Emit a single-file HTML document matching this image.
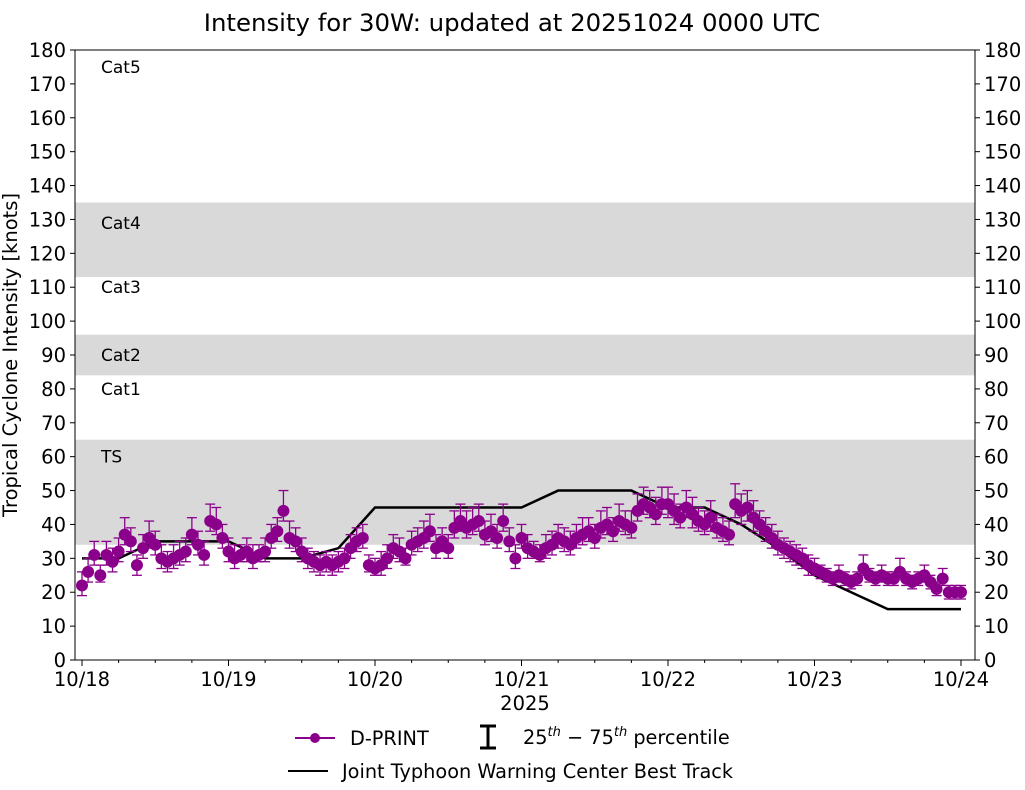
<!DOCTYPE html>
<html><head><meta charset="utf-8"><style>
body{margin:0;background:#fff;font-family:"Liberation Sans","DejaVu Sans",sans-serif}
svg text{font-family:"DejaVu Sans","Liberation Sans",sans-serif}
</style></head><body>
<svg id="c" width="1025" height="785" xmlns="http://www.w3.org/2000/svg" style="position:absolute;left:0;top:0"></svg>
<script>
// Data
const bandLo=[34,84,113];
const bandHi=[65,96,135];
const catLabels=["Cat5","Cat4","Cat3","Cat2","Cat1","TS"];
const catLabelVals=[175,129,110,90,80,60];
const yTicks=[0,10,20,30,40,50,60,70,80,90,100,110,120,130,140,150,160,170,180];
const xTickLabels=["10/18","10/19","10/20","10/21","10/22","10/23","10/24"];
const btHours=[0,6,12,18,24,30,36,42,48,54,60,66,72,78,84,90,96,102,108,114,120,126,132,138,144];
const btVals=[30,30,35,35,35,30,30,33,45,45,45,45,45,50,50,50,45,45,40,33,25,20,15,15,15];
const dpVals=[
22,26,31,25,31,29,32,37,35,28,33,36,34,30,29,30,31,32,37,34,31,41,40,36,
32,30,31,32,30,31,32,36,38,44,36,35,32,30,29,28,29,28,29,30,33,35,36,28,
27,28,30,33,32,30,34,35,36,38,33,35,33,39,41,39,40,41,37,38,36,41,35,30,
36,33,32,31,33,34,36,35,34,36,37,38,36,39,40,38,41,40,39,44,46,45,43,46,
46,44,42,45,43,41,40,42,39,38,37,46,44,45,42,40,38,36,34,33,32,31,30,28,
27,26,25,24,25,24,23,24,27,25,24,25,24,24,26,24,23,24,25,23,21,24,20,20,
20];
const dpErrHi=[
4,4,4,3,4,4,4,5,4,3,4,5,4,4,3,4,4,4,5,4,4,5,5,4,
4,4,3,4,4,3,4,4,4,6,5,4,4,3,3,3,3,3,3,3,4,4,4,3,
3,4,4,4,4,3,4,4,5,5,4,4,4,5,5,5,5,5,4,5,4,5,4,4,
4,4,3,3,4,4,4,4,4,4,5,4,4,5,5,4,5,4,5,5,5,5,5,5,
5,5,4,5,5,4,4,5,4,4,4,6,5,5,5,4,4,4,4,3,3,3,3,3,
3,2,2,2,3,2,2,2,4,2,2,3,2,2,4,2,2,2,3,2,2,3,2,2,
2];
const dpErrLo=[
3,3,3,2,3,3,3,3,3,3,3,3,3,3,3,3,3,3,3,3,3,3,3,3,
3,3,2,3,3,2,3,3,3,3,3,3,3,3,3,3,3,3,3,3,3,3,3,2,
2,3,3,3,3,2,3,3,3,3,3,3,3,3,3,3,3,3,3,3,3,3,3,3,
3,3,2,2,3,3,3,3,3,3,3,3,3,3,3,3,3,3,3,3,3,3,3,3,
4,4,3,3,4,3,3,4,3,3,3,4,4,4,4,3,3,3,3,3,3,3,3,3,
2,2,2,2,2,2,2,2,2,2,2,2,2,2,2,2,2,2,2,2,2,2,2,2,
2];

const svg=document.getElementById('c');const NS="http://www.w3.org/2000/svg";
const L=75,R=975,T=50,B=660;
const X0=82,DAY=146.5;
function xs(h){return X0+h/24*DAY;}
function ys(v){return B-(v/180)*(B-T);}
function mk(tag,attrs,parent){const e=document.createElementNS(NS,tag);for(const k in attrs)e.setAttribute(k,attrs[k]);(parent||svg).appendChild(e);return e;}
function txt(s,attrs,parent){const e=mk('text',attrs,parent);e.textContent=s;return e;}

const bands=mk('g',{});


for(let i=0;i<bandLo.length;i++){
  const r=mk('rect',{x:L,y:ys(bandHi[i]),width:R-L,height:ys(bandLo[i])-ys(bandHi[i]),fill:'#d9d9d9'},bands);
  
  
}
for(let i=0;i<catLabels.length;i++){
  const t=txt(catLabels[i],{x:101,y:ys(catLabelVals[i])+6,'font-size':17},svg);
  
  
}
let pts=btHours.map((h,i)=>xs(h)+','+ys(btVals[i]));
const bt=mk('polyline',{points:pts.join(' '),fill:'none',stroke:'#000','stroke-width':2.5});


const dg=mk('g',{});


const C='#8b008b';
for(let i=0;i<dpVals.length;i++){
  const x=xs(i),hi=ys(dpVals[i]+dpErrHi[i]),lo=ys(dpVals[i]-dpErrLo[i]);
  mk('line',{x1:x,x2:x,y1:hi,y2:lo,stroke:C,'stroke-width':1.3},dg);
  mk('line',{x1:x-5,x2:x+5,y1:hi,y2:hi,stroke:C,'stroke-width':1.3},dg);
  mk('line',{x1:x-5,x2:x+5,y1:lo,y2:lo,stroke:C,'stroke-width':1.3},dg);
}
for(let i=0;i<dpVals.length;i++){
  const c=mk('circle',{cx:xs(i),cy:ys(dpVals[i]),r:6,fill:C},dg);
  
  
}
const fr=mk('rect',{x:L,y:T,width:R-L,height:B-T,fill:'none',stroke:'#000','stroke-width':1});


for(const v of yTicks){
  const y=ys(v);
  mk('line',{x1:L-5,x2:L,y1:y,y2:y,stroke:'#000'});
  mk('line',{x1:R,x2:R+5,y1:y,y2:y,stroke:'#000'});
  const a=txt(v,{x:L-9,y:y+7,'font-size':19.5,'text-anchor':'end'});
  
  
  const b=txt(v,{x:R+9,y:y+7,'font-size':19.5});
  
  
}
for(let h=0;h<=144;h+=6){
  const x=xs(h),big=h%24===0;
  mk('line',{x1:x,x2:x,y1:B,y2:B+(big?6:3),stroke:'#000'});
}
xTickLabels.forEach((s,i)=>{
  const t=txt(s,{x:xs(i*24),y:B+26,'font-size':19.5,'text-anchor':'middle'});
  
  
});
</script>
<div style="position:absolute;left:0;top:0;width:1025px;height:785px;pointer-events:none">
<svg width="1025" height="785" xmlns="http://www.w3.org/2000/svg">
<text x="512" y="31" font-size="24.4" text-anchor="middle" font-family="DejaVu Sans,sans-serif">Intensity for 30W: updated at 20251024 0000 UTC</text>
<text x="525" y="710" font-size="19.5" text-anchor="middle" font-family="DejaVu Sans,sans-serif">2025</text>
<text transform="translate(17,355) rotate(-90)" font-size="19.5" text-anchor="middle" font-family="DejaVu Sans,sans-serif">Tropical Cyclone Intensity [knots]</text>
<g font-family="DejaVu Sans,sans-serif" font-size="19.3">
<line x1="295" y1="738" x2="335" y2="738" stroke="#8b008b" stroke-width="2"/>
<circle cx="315" cy="738" r="5" fill="#8b008b"/>
<text x="350" y="745">D-PRINT</text>
<g stroke="#000" stroke-width="3">
<line x1="488" y1="726" x2="488" y2="748"/><line x1="480" y1="726" x2="496" y2="726"/><line x1="480" y1="748" x2="496" y2="748"/></g>
<text x="523" y="744">25<tspan font-size="13" dy="-8" font-style="italic">th</tspan><tspan dy="8"> − 75</tspan><tspan font-size="13" dy="-8" font-style="italic">th</tspan><tspan dy="8"> percentile</tspan></text>
<line x1="288" y1="771" x2="328" y2="771" stroke="#000" stroke-width="2"/>
<text x="342" y="778">Joint Typhoon Warning Center Best Track</text>
</g>
</svg></div>
</body></html>
